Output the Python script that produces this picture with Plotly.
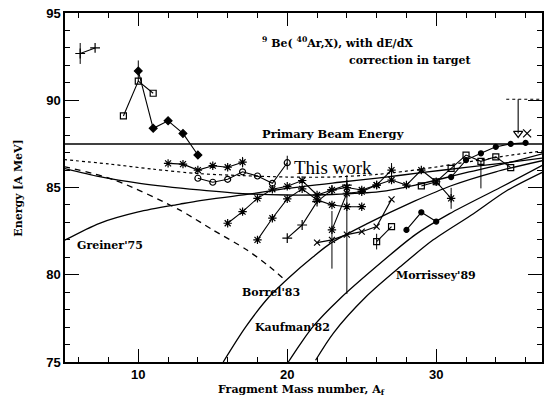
import plotly.graph_objects as go

# ---------------- data ----------------
beam_energy = 87.5

# model curves
dotted_A = [5, 8, 11, 14, 17, 20, 23, 26, 29, 32, 35, 37.2]
dotted_E = [86.6, 86.35, 86.05, 85.8, 85.68, 85.6, 85.6, 85.75, 86.05, 86.45, 86.85, 87.1]

upper_A = [5, 7.4, 10.1, 14.1, 17, 20, 23, 26.2, 28.6, 32, 35, 37.2]
upper_E = [86.1, 85.62, 85.24, 84.86, 84.65, 84.57, 84.6, 84.76, 85.14, 85.85, 86.45, 86.95]

greiner_A = [5, 7.4, 10, 12.8, 14.15, 17.3, 20, 23.5, 26.2, 29, 32, 35, 37.2]
greiner_E = [81.95, 82.95, 83.6, 84.05, 84.25, 84.6, 84.95, 85.3, 85.55, 85.85, 86.15, 86.45, 86.7]

dashed_A = [5, 8.4, 12.8, 15.0, 17.3, 18.8, 19.85]
dashed_E = [86.2, 85.43, 83.7, 82.57, 81.42, 80.47, 79.7]

borrel_A = [15.7, 17.2, 18.8, 20.2, 21.7, 22.9, 25.3, 28.5, 31, 34, 37.2]
borrel_E = [75.0, 77.0, 78.75, 79.9, 81.0, 81.8, 82.9, 84.2, 85.1, 85.9, 86.55]

kaufman_A = [20.07, 20.85, 21.74, 23.5, 26.3, 28.6, 30.9, 34.3, 37.2]
kaufman_E = [75.0, 76.0, 77.04, 78.6, 80.7, 82.3, 83.5, 85.0, 86.3]

morrissey_A = [21.9, 23.1, 25.3, 27.6, 29.8, 32.5, 34.7, 37.2]
morrissey_E = [75.1, 76.66, 78.75, 80.47, 82.0, 83.5, 84.8, 85.9]

# measured series
plus_A = [6.1, 7.1]
plus_E = [92.68, 93.0]
plus_err = [0.6, 0]

diam_A = [10, 11, 12, 13, 14]
diam_E = [91.68, 88.39, 88.82, 88.1, 86.86]
diam_err = [0.6, 0, 0, 0, 0]

sqA_A = [9, 10, 11]
sqA_E = [89.1, 91.1, 90.4]

xs_A = [12, 13, 14, 15, 16, 17]
xs_E = [86.38, 86.34, 86.0, 86.25, 86.16, 86.45]
xs_err = [0, 0, 0, 0, 0, 0.3]

circ_A = [14, 15, 16, 17, 18, 19, 20]
circ_E = [85.53, 85.3, 85.47, 85.9, 85.66, 85.24, 86.42]
circ_err = [0, 0, 0, 0, 0, 0, 0.4]

m1_A = [16, 17, 18, 19, 20, 21, 22, 23, 24, 25, 26, 27]
m1_E = [82.95, 83.62, 84.38, 84.9, 85.07, 85.4, 84.57, 84.86, 85.0, 84.86, 85.14, 86.0]
m1_err = [0, 0, 0, 0, 0, 0, 0, 0, 0, 0, 0, 0.4]

m2_A = [18, 19, 20, 21, 22, 23, 24, 25]
m2_E = [82.0, 83.24, 84.35, 84.92, 84.29, 84.0, 83.9, 83.9]

m3_A = [20, 21, 22, 23, 24]
m3_E = [82.1, 82.85, 84.19, 84.86, 85.14]

m4_A = [22, 23, 24, 25, 26, 27]
m4_E = [81.84, 82.0, 82.3, 82.47, 82.76, 84.32]
m4_err = [0, 1.65, 3.4, 0, 0, 0]

m5_A = [23, 24, 25, 26, 27, 28, 29, 30, 31]
m5_E = [82.57, 84.67, 84.76, 85.14, 85.43, 85.14, 86.0, 85.33, 84.38]
m5_err = [0, 0, 0, 0, 0, 0, 0, 0, 0.6]

sqB_A = [26, 27]
sqB_E = [81.9, 82.76]
sqB_err = [0.45, 0]

fc_A = [28, 29, 30]
fc_E = [82.57, 83.58, 83.05]

m6_A = [29, 30, 31, 32, 33, 34, 35]
m6_E = [85.09, 85.33, 86.1, 86.86, 86.5, 86.76, 86.14]
m6_err_up = [0, 0, 0, 0, 0, 0, 0]
m6_err_dn = [0, 0, 0, 0, 1.55, 0, 0]

top_A = [31, 32, 33, 34, 35, 36]
top_E = [85.6, 86.57, 86.96, 87.33, 87.5, 87.56]

lim_A = [35.5]
lim_E = [88.1]
lim_top = 90.06
xlim_A = [36.1]
xlim_E = [88.1]

x_ticks = [10, 20, 30]
y_ticks = [75, 80, 85, 90, 95]

# ---------------- figure ----------------
fig = go.Figure()
K = "black"

def curve(A, E, dash="solid", w=1.3):
    fig.add_trace(go.Scatter(x=A, y=E, mode="lines",
                             line=dict(color=K, width=w, dash=dash, shape="spline", smoothing=0.8),
                             hoverinfo="skip", showlegend=False))

fig.add_trace(go.Scatter(x=[4, 38], y=[beam_energy, beam_energy], mode="lines",
                         line=dict(color=K, width=1.5), showlegend=False))
curve(dotted_A, dotted_E, dash="dot", w=1.2)
curve(upper_A, upper_E)
curve(greiner_A, greiner_E)
curve(dashed_A, dashed_E, dash="6px,5px")
curve(borrel_A, borrel_E)
curve(kaufman_A, kaufman_E)
curve(morrissey_A, morrissey_E)

def series(A, E, symbol, size=6, err=None, errminus=None):
    ey = None
    if err is not None:
        ey = dict(type="data", array=err, visible=True, color=K, thickness=1, width=0)
        if errminus is not None:
            ey["symmetric"] = False
            ey["arrayminus"] = errminus
    fig.add_trace(go.Scatter(
        x=A, y=E, mode="lines+markers",
        line=dict(color=K, width=1.1),
        marker=dict(symbol=symbol, size=size, color=K, line=dict(color=K, width=1.2)),
        error_y=ey, showlegend=False))

series(plus_A, plus_E, "cross-thin-open", 7, plus_err)
series(diam_A, diam_E, "diamond", 6, diam_err)
series(sqA_A, sqA_E, "square-open", 6)
series(xs_A, xs_E, "asterisk-open", 7, xs_err)
series(circ_A, circ_E, "circle-open", 6, circ_err)
series(m1_A, m1_E, "asterisk-open", 7, m1_err)
series(m2_A, m2_E, "asterisk-open", 7)
series(m3_A, m3_E, "cross-thin-open", 7)
series(m4_A, m4_E, "x-thin-open", 6, m4_err)
series(m5_A, m5_E, "asterisk-open", 7, m5_err)
series(sqB_A, sqB_E, "square-open", 6, sqB_err)
series(fc_A, fc_E, "circle", 5)
series(m6_A, m6_E, "square-open", 6, m6_err_up, m6_err_dn)
series(top_A, top_E, "circle", 5)

# upper-limit arrow point
fig.add_trace(go.Scatter(x=[lim_A[0], lim_A[0]], y=[lim_top, lim_E[0]], mode="lines",
                         line=dict(color=K, width=1.1), showlegend=False))
fig.add_trace(go.Scatter(x=[34.7, 37.2], y=[lim_top, lim_top], mode="lines",
                         line=dict(color=K, width=1.1, dash="dot"), showlegend=False))
fig.add_trace(go.Scatter(x=lim_A, y=lim_E, mode="markers",
                         marker=dict(symbol="triangle-down-open", size=8, color=K, line=dict(color=K, width=1.2)),
                         showlegend=False))
fig.add_trace(go.Scatter(x=xlim_A, y=xlim_E, mode="markers",
                         marker=dict(symbol="x-thin-open", size=8, color=K, line=dict(color=K, width=1.3)),
                         showlegend=False))

SERIF = "DejaVu Serif"
ann = [
    dict(x=18.2, y=93.3, text="<sup>9</sup> Be( <sup>40</sup>Ar,X), with dE/dX", size=11),
    dict(x=24.0, y=92.3, text="correction in target", size=11),
    dict(x=18.2, y=88.05, text="Primary Beam Energy", size=11.5),
    dict(x=20.3, y=86.15, text="This work", size=19, bold=False, fam="Liberation Serif"),
    dict(x=5.75, y=81.7, text="Greiner'75", size=11),
    dict(x=16.8, y=79.0, text="Borrel'83", size=11),
    dict(x=17.7, y=77.0, text="Kaufman'82", size=11),
    dict(x=27.15, y=79.95, text="Morrissey'89", size=11),
]
for a in ann:
    bold = a.get("bold", True)
    fig.add_annotation(x=a["x"], y=a["y"], text=("<b>%s</b>" % a["text"]) if bold else a["text"],
                       showarrow=False, xanchor="left", yanchor="middle",
                       font=dict(family=a.get("fam", SERIF), size=a["size"], color=K))

# axis titles as paper annotations
fig.add_annotation(xref="paper", yref="paper", x=0.495, y=-0.081,
                   text="<b>Fragment Mass number, A<sub>f</sub></b>", showarrow=False,
                   xanchor="center", yanchor="middle", font=dict(family=SERIF, size=11, color=K))
fig.add_annotation(xref="paper", yref="paper", x=-0.098, y=0.5,
                   text="<b>Energy [A MeV]</b>", showarrow=False, textangle=-90,
                   xanchor="center", yanchor="middle", font=dict(family=SERIF, size=11, color=K))

axis_common = dict(showline=True, linewidth=1.5, linecolor=K, mirror="allticks", ticks="inside",
                   showgrid=False, zeroline=False, tickcolor=K, tickwidth=1.2, automargin=False,
                   ticklabeloverflow="allow",
                   tickfont=dict(family="Liberation Sans", size=13, color=K))

fig.update_xaxes(range=[5.08, 37.1], tickvals=x_ticks, ticktext=["<b>%d</b>" % v for v in x_ticks],
                 ticklen=13,
                 minor=dict(ticks="inside", dtick=2, tick0=0, ticklen=5, tickcolor=K, tickwidth=1),
                 **axis_common)
fig.update_yaxes(range=[75, 95], tickvals=y_ticks, ticktext=["<b>%d</b>" % v for v in y_ticks],
                 ticklen=14,
                 minor=dict(ticks="inside", dtick=1, tick0=0, ticklen=5, tickcolor=K, tickwidth=1),
                 **axis_common)

fig.update_layout(width=545, height=401, margin=dict(l=65, r=3, t=13, b=39),
                  paper_bgcolor="white", plot_bgcolor="white", showlegend=False)

# remove the page's default 8px body margin so the figure fills the window exactly
fig.write_html("out.html", config={"displayModeBar": False},
               post_script="document.body.style.margin='0px';")
